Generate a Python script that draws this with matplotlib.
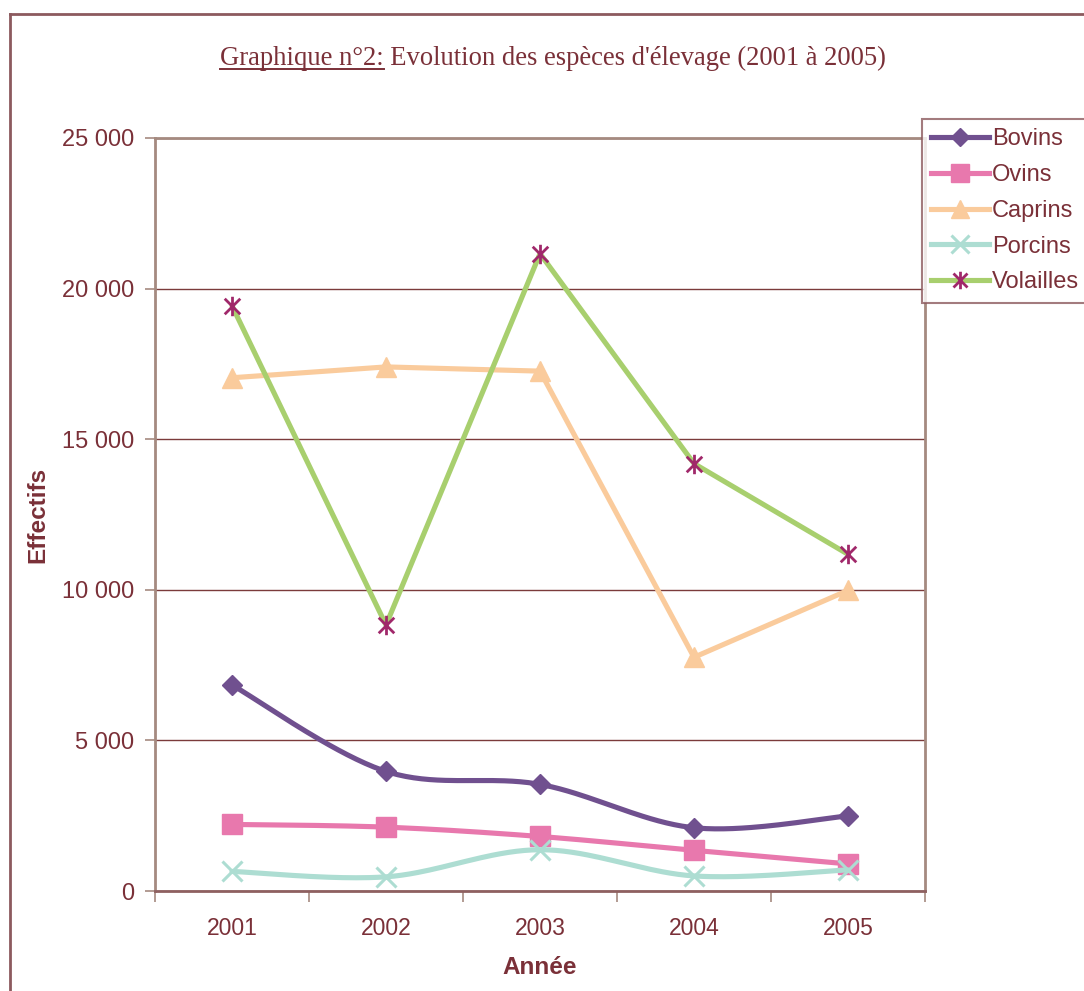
import numpy as np
import matplotlib
matplotlib.use("Agg")
import matplotlib.pyplot as plt
from matplotlib.lines import Line2D
from matplotlib.path import Path

# ---- data ----
years = ["2001", "2002", "2003", "2004", "2005"]
bovins = [6840, 3970, 3540, 2100, 2490]
ovins = [2210, 2120, 1810, 1350, 900]
caprins = [17040, 17400, 17260, 7760, 9980]
porcins = [650, 470, 1370, 500, 700]
volailles = [19430, 8830, 21160, 14190, 11180]

series_names = ["Bovins", "Ovins", "Caprins", "Porcins", "Volailles"]
yticks = [0, 5000, 10000, 15000, 20000, 25000]
ytick_labels = ["0", "5 000", "10 000", "15 000", "20 000", "25 000"]

TXT = "#7A3038"
GRID = "#7B3B3B"
SPINE = "#A58A80"
FRAME = "#8C5A5E"

plt.rcParams["font.family"] = ["Liberation Sans", "DejaVu Sans"]

# star marker: an X with a vertical bar
star = Path([(-1, -1), (1, 1), (-1, 1), (1, -1), (0, -1.25), (0, 1.25)],
            [Path.MOVETO, Path.LINETO, Path.MOVETO, Path.LINETO, Path.MOVETO, Path.LINETO])


def catmull_rom(x, y, n=40):
    """Smoothed curve through the points (uniform Catmull-Rom)."""
    x = np.asarray(x, float)
    y = np.asarray(y, float)
    px = np.concatenate([[x[0]], x, [x[-1]]])
    py = np.concatenate([[y[0]], y, [y[-1]]])
    ox, oy = [], []
    for i in range(1, len(px) - 2):
        t = np.linspace(0, 1, n)
        for p, out in ((px, ox), (py, oy)):
            p0, p1, p2, p3 = p[i - 1], p[i], p[i + 1], p[i + 2]
            out.extend(0.5 * ((2 * p1) + (-p0 + p2) * t
                              + (2 * p0 - 5 * p1 + 4 * p2 - p3) * t ** 2
                              + (-p0 + 3 * p1 - 3 * p2 + p3) * t ** 3))
    return np.array(ox), np.array(oy)


styles = {
    "Bovins": dict(values=bovins, color="#70508F", marker="D", ms=10.5, mfc="#70508F", mec="#70508F", mew=1, smooth=True),
    "Ovins": dict(values=ovins, color="#E878AD", marker="s", ms=14, mfc="#E878AD", mec="#E878AD", mew=1, smooth=True),
    "Caprins": dict(values=caprins, color="#FACB9C", marker="^", ms=15, mfc="#FACB9C", mec="#FACB9C", mew=1, smooth=False),
    "Porcins": dict(values=porcins, color="#ADDDD2", marker="x", ms=14, mfc="#ADDDD2", mec="#ADDDD2", mew=2.2, smooth=True),
    "Volailles": dict(values=volailles, color="#A8CF6E", marker=star, ms=14, mfc="none", mec="#A0286A", mew=2.0, smooth=False),
}

fig = plt.figure(figsize=(10.84, 9.91), dpi=100)
ax = fig.add_axes([155 / 1084, 1 - 891 / 991, (925 - 155) / 1084, (891 - 138) / 991])

x = np.arange(1, len(years) + 1)
handles = []
for z, name in enumerate(series_names):
    s = styles[name]
    if s["smooth"]:
        lx, ly = catmull_rom(x, s["values"])
    else:
        lx, ly = x, s["values"]
    ax.plot(lx, ly, color=s["color"], lw=3.7, solid_capstyle="round",
            solid_joinstyle="round", zorder=3 + 2 * z)
    ax.plot(x, s["values"], linestyle="none", marker=s["marker"], ms=s["ms"],
            mfc=s["mfc"], mec=s["mec"], mew=s["mew"], zorder=4 + 2 * z)
    handles.append(Line2D([], [], color=s["color"], lw=3.7, marker=s["marker"],
                          ms=s["ms"] * 0.9, mfc=s["mfc"], mec=s["mec"], mew=s["mew"]))

ax.set_xlim(0.5, len(years) + 0.5)
ax.set_ylim(0, 25000)

# y axis
ax.set_yticks(yticks)
ax.set_yticklabels(ytick_labels)
ax.tick_params(axis="y", direction="out", length=7, width=1.2, color=SPINE,
               labelsize=17, labelcolor=TXT, pad=8)
ax.yaxis.grid(True, color=GRID, lw=1.0)
ax.set_axisbelow(True)

# x axis: tick marks between categories, labels at category centres
ax.set_xticks(np.arange(0.5, len(years) + 1, 1.0))
ax.set_xticklabels([])
ax.set_xticks(x, minor=True)
ax.set_xticklabels(years, minor=True)
ax.tick_params(axis="x", which="major", direction="out", length=8, width=1.2, color=SPINE)
ax.tick_params(axis="x", which="minor", length=0, labelsize=16.5, labelcolor=TXT, pad=19)

for side in ("left", "right", "top"):
    ax.spines[side].set_color(SPINE)
    ax.spines[side].set_linewidth(2)
ax.spines["bottom"].set_color("#8E6060")
ax.spines["bottom"].set_linewidth(2)

fig.text(38 / 1084, 1 - 515 / 991, "Effectifs", rotation=90, ha="center", va="center",
         fontsize=17.5, fontweight="bold", color=TXT)
fig.text(540 / 1084, 1 - 967 / 991, "Année", ha="center", va="center",
         fontsize=17.5, fontweight="bold", color=TXT)

# legend (partly running past the right edge of the frame)
leg = fig.legend(handles, series_names, loc="upper left",
                 bbox_to_anchor=(922 / 1084, 1 - 119 / 991), frameon=True,
                 fancybox=False, fontsize=17, labelcolor=TXT, handlelength=2.45,
                 handletextpad=0.12, labelspacing=0.58, borderpad=0.4,
                 borderaxespad=0.0)
leg.get_frame().set_edgecolor(FRAME)
leg.get_frame().set_linewidth(1.5)

# outer frame of the chart
fig.add_artist(Line2D([10 / 1084, 10 / 1084], [0, 1 - 14 / 991], color=FRAME, lw=2,
                      transform=fig.transFigure))
fig.add_artist(Line2D([10 / 1084, 1], [1 - 14 / 991, 1 - 14 / 991], color=FRAME, lw=2,
                      transform=fig.transFigure))

# title with underlined prefix
prefix = "Graphique n°2:"
rest = " Evolution des espèces d'élevage (2001 à 2005)"
serif = ["Liberation Serif", "DejaVu Serif"]
TSIZE = 19.2
title = fig.text(553 / 1084, 1 - 65 / 991, prefix + rest, ha="center", va="baseline",
                 fontsize=TSIZE, color=TXT, family=serif)
renderer = fig.canvas.get_renderer()
bb = title.get_window_extent(renderer)
probe = fig.text(0, 0, prefix, fontsize=TSIZE, family=serif)
pw = probe.get_window_extent(renderer).width
probe.remove()
base = title.get_position()[1] * fig.bbox.height
fig.add_artist(Line2D([bb.x0 / fig.bbox.width, (bb.x0 + pw) / fig.bbox.width],
                      [(base - 3.5) / fig.bbox.height] * 2, color=TXT, lw=1.4,
                      transform=fig.transFigure))

fig.savefig("out.png", dpi=100)
